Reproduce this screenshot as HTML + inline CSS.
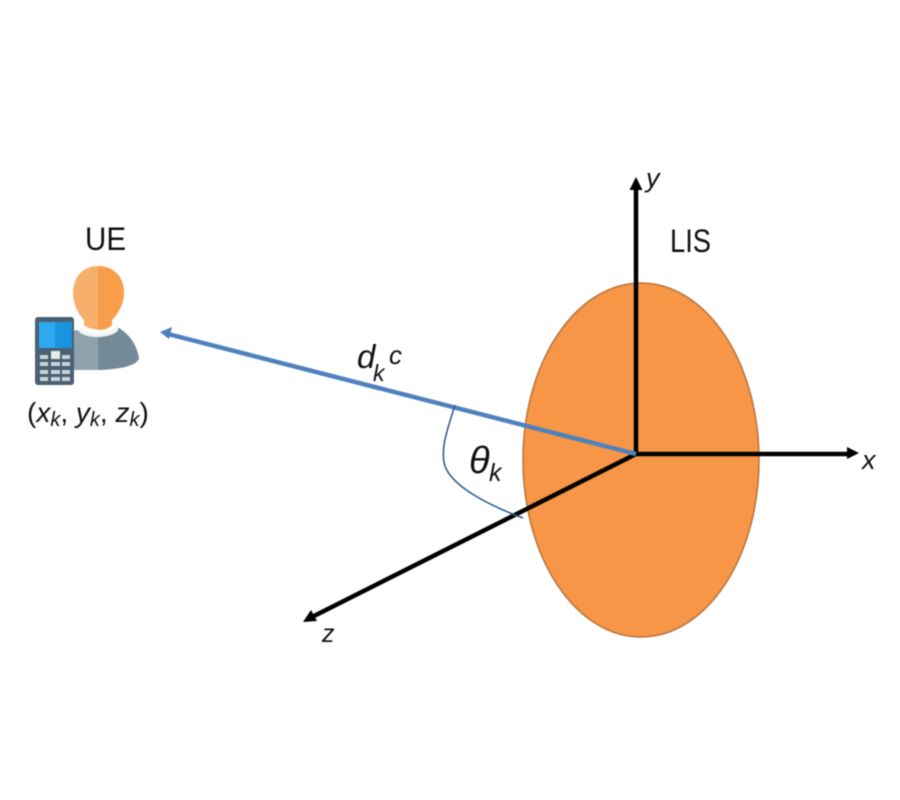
<!DOCTYPE html>
<html>
<head>
<meta charset="utf-8">
<style>
html,body{margin:0;padding:0;background:#fff;}
svg{display:block;filter:blur(0.4px);}
text{font-family:"Liberation Sans",sans-serif;fill:#111;}
</style>
</head>
<body>
<svg width="900" height="800" viewBox="0 0 900 800" xmlns="http://www.w3.org/2000/svg">
<rect width="900" height="800" fill="#fff"/>
<ellipse cx="641" cy="460" rx="118" ry="177" fill="#f79646" stroke="#b9733a" stroke-width="1.5"/>
<!-- axes -->
<line x1="636" y1="455" x2="636" y2="187" stroke="#000" stroke-width="4.5"/>
<polygon points="636,177 629.5,190 642.5,190" fill="#000"/>
<line x1="636" y1="454" x2="850" y2="454" stroke="#000" stroke-width="4.5"/>
<polygon points="859,453 847,447 847,459" fill="#000"/>
<line x1="636" y1="454" x2="312" y2="617" stroke="#000" stroke-width="4.5"/>
<polygon points="303,622 311,610 317,621" fill="#000"/>
<!-- blue line -->
<line x1="636" y1="454" x2="168" y2="334" stroke="#4f81bd" stroke-width="4.5"/>
<polygon points="160,332 172,327 169,339" fill="#4f81bd"/>
<!-- theta arc -->
<path d="M455 405 C449 425 441 445 444 462 C447 482 480 502 523 518" fill="none" stroke="#2f5f93" stroke-width="1.6"/>
<!-- person -->
<path d="M72 331 L77 330 C88 337 108 337 119 328 C128 334 136 342 139 358 C137 366 120 369 98 370 L72 370Z" fill="#8fa3ad"/>
<path d="M98 335 C106 335 113 332 119 328 C128 334 136 342 139 358 C137 366 120 369 98 370Z" fill="#738a97"/>
<path d="M80 327 C88 336 108 336 118 325 L118 331 C108 339 88 339 79 332Z" fill="#f4f4f2"/>
<path d="M73 293 C73 276 84 266 98 266 C113 266 124 276 124 293 C124 305 117 315 112 320 L112 325 C106 331 90 331 84 325 L84 320 C79 315 73 305 73 293Z" fill="#f7b06c"/>
<path d="M98 266 C113 266 124 276 124 293 C124 305 117 315 112 320 L112 325 C108 329 103 330 98 330Z" fill="#f89d4a"/>
<!-- phone -->
<rect x="35" y="317" width="39" height="68" rx="3" fill="#4a6172"/>
<rect x="39" y="322" width="33" height="26" fill="#2ea8ee"/>
<rect x="55" y="322" width="17" height="26" fill="#1a94e0"/>
<g fill="#c9d3d8">
<rect x="40" y="355" width="8" height="4"/><rect x="51" y="351" width="9" height="8" fill="#e6ecee"/><rect x="62" y="355" width="8" height="4"/>
<rect x="40" y="362" width="8" height="4"/><rect x="51" y="362" width="9" height="4"/><rect x="62" y="362" width="8" height="4"/>
<rect x="40" y="370" width="8" height="4"/><rect x="51" y="370" width="9" height="4"/><rect x="62" y="370" width="8" height="4"/>
<rect x="40" y="377" width="8" height="4"/><rect x="51" y="377" width="9" height="4"/><rect x="62" y="377" width="8" height="4"/>
</g>
<!-- labels -->
<text x="85" y="250" font-size="32" textLength="41" lengthAdjust="spacingAndGlyphs">UE</text>
<text x="670" y="252" font-size="32" textLength="41" lengthAdjust="spacingAndGlyphs">LIS</text>
<text x="646" y="187" font-size="27" font-style="italic">y</text>
<text x="862" y="469" font-size="27" font-style="italic">x</text>
<text x="322" y="642" font-size="25" font-style="italic">z</text>
<text x="27" y="422" font-size="28">(<tspan font-style="italic">x</tspan><tspan font-style="italic" font-size="20" dy="4">k</tspan><tspan dy="-4">, </tspan><tspan font-style="italic">y</tspan><tspan font-style="italic" font-size="20" dy="4">k</tspan><tspan dy="-4">, </tspan><tspan font-style="italic">z</tspan><tspan font-style="italic" font-size="20" dy="4">k</tspan><tspan dy="-4">)</tspan></text>
<text x="357" y="368" font-size="33" font-style="italic">d</text>
<text x="373" y="381" font-size="23" font-style="italic">k</text>
<text x="389" y="364" font-size="26" font-style="italic">c</text>
<text x="469" y="473" font-size="38" font-style="italic">θ</text>
<text x="489" y="481" font-size="25" font-style="italic">k</text>
</svg>
</body>
</html>
